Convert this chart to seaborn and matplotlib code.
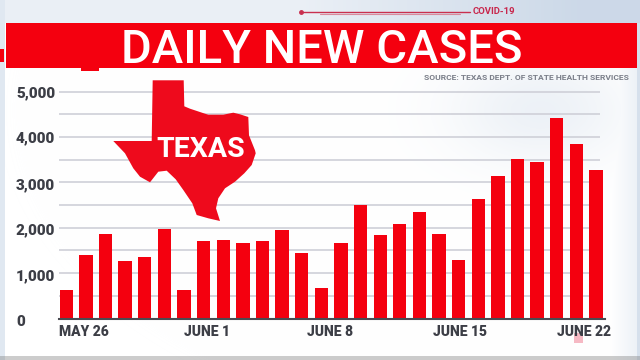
import numpy as np
import pandas as pd
import matplotlib
matplotlib.use('Agg')
import matplotlib.pyplot as plt
from matplotlib.patches import Polygon, Rectangle
from matplotlib.transforms import ScaledTranslation
import seaborn as sns

# daily new cases
days = ['May 26', 'May 27', 'May 28', 'May 29', 'May 30', 'May 31', 'June 1',
        'June 2', 'June 3', 'June 4', 'June 5', 'June 6', 'June 7', 'June 8',
        'June 9', 'June 10', 'June 11', 'June 12', 'June 13', 'June 14', 'June 15',
        'June 16', 'June 17', 'June 18', 'June 19', 'June 20', 'June 21', 'June 22']
new_cases = [620, 1390, 1870, 1260, 1360, 1970, 630,
             1710, 1725, 1670, 1715, 1955, 1450, 670,
             1655, 2510, 1845, 2090, 2350, 1865, 1285,
             2625, 3135, 3510, 3450, 4420, 3850, 3280]
y_ticks = [0, 1000, 2000, 3000, 4000, 5000]
y_labels = ['0', '1,000', '2,000', '3,000', '4,000', '5,000']
grid_levels = [500, 1000, 1500, 2000, 2500, 3000, 3500, 4000, 4500, 5000]
x_tick_days = [0, 6, 13, 20, 27]
x_tick_nudge = [0.9, 1.15, 0.47, 0.06, -0.6]
x_labels = ['MAY 26', 'JUNE 1', 'JUNE 8', 'JUNE 15', 'JUNE 22']

RED = '#f4000f'
DARK = '#3c3e46'
FONT = 'Roboto'
W, H = 640, 360

# outline of the state, in pixels
texas = [(152.7, 80.3), (183.7, 80.3), (184.3, 106.3), (190, 108.7), (205, 113.7), (208.3, 114.7),
         (223.3, 114.7), (233.3, 112.7), (240, 114.3), (248.3, 117), (249, 135.3), (255, 150.3),
         (255.7, 153.3), (251.7, 165), (244.3, 173.3), (235, 181.7), (225, 188.3), (218.3, 198.3),
         (216, 208.3), (220, 221), (208.3, 218.3), (196.7, 215), (192.3, 203.3), (183.3, 190),
         (175.7, 179.3), (166.7, 170.7), (158.3, 171.7), (150, 182.3), (140, 176.7), (133.3, 168.3),
         (125, 153.3), (113.3, 141), (151.7, 141)]

sns.set_style('white')
plt.rcParams['font.family'] = [FONT, 'DejaVu Sans']

fig = plt.figure(figsize=(W / 100, H / 100), dpi=100)

# studio backdrop and banner live in a pixel-coordinate axes
bg = fig.add_axes([0, 0, 1, 1], zorder=0)
xx, yy = np.meshgrid(np.arange(W), np.arange(H))
img = np.ones((H, W, 3))
tint = np.array([0.80, 0.85, 0.91])
blob = 0.35 * np.exp(-(((xx - 540) / 90.0) ** 2 + ((yy - 110) / 55.0) ** 2))
top = (yy < 23) * (0.4 + 0.6 * np.clip((xx - 300) / 280.0, 0, 1))
right = (xx > 636) * 0.8 + (xx <= 636) * np.clip((xx - 610) / 26.0, 0, 1) * 0.35
left = (xx < 5) * 0.6
mask = np.clip(np.maximum.reduce([blob, top, right, left]), 0, 1)
img = img * (1 - mask[..., None]) + tint * mask[..., None]
bottom = (yy > 355) * 0.4
img = img * (1 - bottom[..., None]) + 0.5 * bottom[..., None]
bg.imshow(img, extent=(0, W, H, 0), aspect='auto')
bg.set_xlim(0, W)
bg.set_ylim(H, 0)
bg.axis('off')
bg.add_patch(Rectangle((6, 23), 630.5, 45, color=RED, lw=0))
bg.add_patch(Rectangle((0, 49), 4, 13, color=RED, lw=0))
bg.add_patch(Rectangle((81, 68), 18, 2.5, color=RED, lw=0))
bg.add_patch(Rectangle((574, 333), 9, 10, color='#f6b9c4', lw=0))
bg.plot([301, 470], [11.5, 11.5], color='#c9304f', lw=1)
bg.plot([320, 460], [14, 14], color='#d98a9c', lw=0.8)
bg.plot([301], [11.5], marker='o', ms=2.5, color='#c9304f')
bg.text(473, 11.5, 'COVID-19', color='#c8264c', fontsize=6.8, fontweight='bold', va='center', ha='left')
bg.text(322, 45.5, 'DAILY NEW CASES', color='white', fontsize=34, fontweight='medium',
        ha='center', va='center_baseline')
bg.text(629, 78, 'SOURCE: TEXAS DEPT. OF STATE HEALTH SERVICES', color='#7b7f8a', fontsize=6.1,
        fontweight='bold', ha='right', va='center')

# chart axes: baseline at y=318.5, 5,000 at y=91.7, left 59, right 605
ax = fig.add_axes([59 / W, (H - 318.5) / H, (605 - 59) / W, (318.5 - 91.7) / H], zorder=1)
ax.patch.set_alpha(0)
df = pd.DataFrame({'day': days, 'cases': new_cases})
sns.barplot(data=df, x='day', y='cases', color=RED, saturation=1, width=0.68, linewidth=0, ax=ax, zorder=2)
ax.hlines(grid_levels, -0.372, 27.2, color='#cfd0d8', lw=1.2, zorder=0.5, clip_on=False)
ax.set_xlim(-0.372, 27.46)
ax.set_ylim(0, 5000)
ax.set_xlabel('')
ax.set_ylabel('')
ax.set_xticks([d + n for d, n in zip(x_tick_days, x_tick_nudge)])
ax.set_xticklabels(x_labels, fontsize=10, fontweight='black', color=DARK)
ax.set_yticks(y_ticks)
ax.set_yticklabels(y_labels, fontsize=11, fontweight='black', color=DARK, ha='left')
ax.tick_params(axis='x', length=0, pad=4.5)
ax.tick_params(axis='y', length=0, pad=31)
# the 0 label and 1,000 sit a little under their lines in the original
for lab, dy in zip(ax.get_yticklabels(), [2.5, 1.5, 1, 1, 0, 0]):
    lab.set_transform(lab.get_transform() + ScaledTranslation(0, -dy / 100, fig.dpi_scale_trans))
sns.despine(ax=ax, left=True)
ax.spines['bottom'].set_color('#4a4b52')
ax.spines['bottom'].set_linewidth(1.5)

# state shape goes on top of the gridlines
fg = fig.add_axes([0, 0, 1, 1], zorder=2)
fg.patch.set_alpha(0)
fg.set_xlim(0, W)
fg.set_ylim(H, 0)
fg.axis('off')
fg.add_patch(Polygon(texas, closed=True, color='#ee0a1c', lw=0))
fg.text(200.5, 146.5, 'TEXAS', color='white', fontsize=20.5, fontweight='bold',
        ha='center', va='center_baseline')

fig.savefig('out.png', dpi=100)
